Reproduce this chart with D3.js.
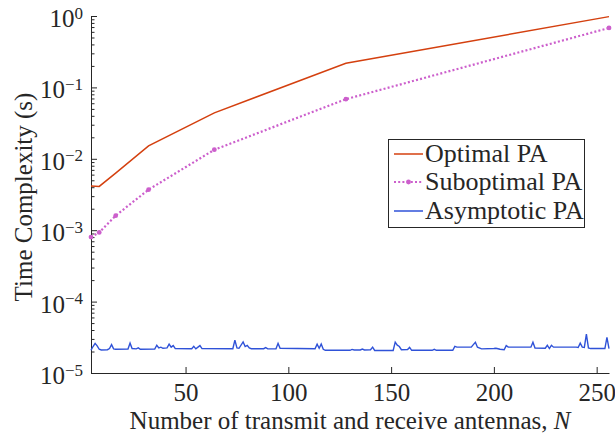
<!DOCTYPE html>
<html><head><meta charset="utf-8">
<script src="https://cdn.jsdelivr.net/npm/d3@7"></script>
<style>body{margin:0;background:#fff}svg{display:block}</style>
</head><body><svg id="c" width="615" height="438"></svg>
<script>
const seriesNames = ["Optimal PA", "Suboptimal PA", "Asymptotic PA"];
const optN = [4, 8, 16, 32, 64, 128, 256];
const optVal = [4.15e-3, 4.1e-3, 6.3e-3, 0.0152, 0.044, 0.218, 0.98];
const subN = [4, 8, 16, 32, 64, 128, 256];
const subVal = [8.0e-4, 9.3e-4, 1.6e-3, 3.7e-3, 0.0134, 0.0684, 0.68];
const asymN = [4,5,6,7,8,9,12,13,14,15,16,22,23,24,26,27,28,35,36,37,38,39,41,42,43,44,45,53,54,55,57,58,73,74,75,76,78,79,80,81,82,88,89,90,94,95,96,113,114,115,116,117,118,130,131,132,135,136,137,140,141,142,151,152,153,154,155,158,159,160,170,171,172,180,181,182,189,190,191,192,194,200,201,203,205,206,207,218,219,220,225,226,227,228,229,240,241,242,243,244,245,246,247,254,255,256];
const asymVal = [2.08e-5,2.35e-5,2.6e-5,2.4e-5,2.15e-5,2.1e-5,2.12e-5,2.2e-5,2.5e-5,2.18e-5,2.15e-5,2.17e-5,2.62e-5,2.2e-5,2.18e-5,2.25e-5,2.15e-5,2.17e-5,2.45e-5,2.25e-5,2.3e-5,2.22e-5,2.25e-5,2.54e-5,2.3e-5,2.42e-5,2.2e-5,2.19e-5,2.36e-5,2.18e-5,2.42e-5,2.2e-5,2.19e-5,2.89e-5,2.25e-5,2.22e-5,2.72e-5,2.35e-5,2.44e-5,2.24e-5,2.19e-5,2.19e-5,2.27e-5,2.18e-5,2.19e-5,2.6e-5,2.22e-5,2.19e-5,2.54e-5,2.22e-5,2.54e-5,2.15e-5,2.08e-5,2.08e-5,2.14e-5,2.1e-5,2.1e-5,2.16e-5,2.1e-5,2.12e-5,2.3e-5,2.07e-5,2.07e-5,2.7e-5,2.45e-5,2.35e-5,2.12e-5,2.13e-5,2.28e-5,2.08e-5,2.08e-5,2.15e-5,2.08e-5,2.08e-5,2.36e-5,2.3e-5,2.3e-5,2.5e-5,2.7e-5,2.3e-5,2.18e-5,2.2e-5,2.22e-5,2.15e-5,2.12e-5,2.42e-5,2.3e-5,2.3e-5,2.7e-5,2.24e-5,2.22e-5,2.44e-5,2.2e-5,2.44e-5,2.3e-5,2.3e-5,2.28e-5,2.62e-5,2.3e-5,2.28e-5,3.5e-5,2.25e-5,2.2e-5,2.2e-5,3.15e-5,2.2e-5];
const xTicks = [50, 100, 150, 200, 250];
const yTicks = [1e-5, 1e-4, 1e-3, 1e-2, 1e-1, 1];
const yTickExp = ["\u22125", "\u22124", "\u22123", "\u22122", "\u22121", "0"];
const colors = ["#d4400f", "#cc5fcc", "#2f52d8"];
const FONT = "Liberation Serif";
const INK = "#262626";

const svg = d3.select("#c");
const x = d3.scaleLinear().domain([4, 256]).range([91, 609]);
const y = d3.scaleLog().domain([1e-5, 1]).range([373, 16]);

const minor = [];
for (let e = -5; e < 0; e++) for (let m = 2; m <= 9; m++) minor.push(m * Math.pow(10, e));

const gyMinor = svg.append("g").attr("transform", "translate(91,0)")
  .call(d3.axisLeft(y).tickValues(minor).tickSize(-3.5).tickFormat(""));
gyMinor.select(".domain").remove();
gyMinor.selectAll("line").attr("stroke", INK);

const gy = svg.append("g").attr("transform", "translate(91,0)")
  .call(d3.axisLeft(y).tickValues(yTicks).tickSize(-6).tickPadding(8).tickSizeOuter(0).tickFormat(""));
gy.selectAll("line").attr("stroke", INK);
gy.select(".domain").attr("stroke", INK);
gy.selectAll(".tick text").each(function(d, i) {
  const t = d3.select(this).attr("font-size", 25).attr("dy", "0.42em").attr("fill", INK).style("font-family", FONT);
  t.text(null);
  t.append("tspan").text("10");
  t.append("tspan").attr("dy", "-0.5em").attr("font-size", 17).text(yTickExp[i]);
});

const gx = svg.append("g").attr("transform", "translate(0,373)")
  .call(d3.axisBottom(x).tickValues(xTicks).tickSize(-6).tickPadding(10).tickSizeOuter(0));
gx.selectAll("line").attr("stroke", INK);
gx.select(".domain").attr("stroke", INK);
gx.selectAll(".tick text").attr("font-size", 25).attr("fill", INK).style("font-family", FONT);

const line = d3.line().x(d => x(d[0])).y(d => y(d[1]));
const optData = optN.map((n, i) => [n, optVal[i]]);
const subData = subN.map((n, i) => [n, subVal[i]]);
const asymData = asymN.map((n, i) => [n, asymVal[i]]);

svg.append("path").datum(asymData).attr("d", line).attr("fill", "none").attr("stroke", colors[2]).attr("stroke-width", 1.4);
svg.append("path").datum(optData).attr("d", line).attr("fill", "none").attr("stroke", colors[0]).attr("stroke-width", 1.5);
svg.append("path").datum(subData).attr("d", line).attr("fill", "none").attr("stroke", colors[1]).attr("stroke-width", 2.2).attr("stroke-dasharray", "2,2.2");
svg.selectAll(".subm").data(subData).enter().append("circle").attr("class", "subm")
  .attr("cx", d => x(d[0])).attr("cy", d => y(d[1])).attr("r", 2.4).attr("fill", colors[1]);

svg.append("text").attr("x", 350).attr("y", 429).attr("text-anchor", "middle").attr("font-size", 25).attr("fill", INK).style("font-family", FONT)
  .text("Number of transmit and receive antennas, ").append("tspan").attr("font-style", "italic").text("N");
svg.append("text").attr("transform", "translate(32,197) rotate(-90)").attr("text-anchor", "middle").attr("font-size", 25).attr("fill", INK).style("font-family", FONT)
  .text("Time Complexity (s)");

const lg = svg.append("g");
lg.append("rect").attr("x", 388.5).attr("y", 139.5).attr("width", 196).attr("height", 88).attr("fill", "#fff").attr("stroke", INK).attr("stroke-width", 1);
const rowY = [154, 182, 211];
seriesNames.forEach((name, i) => {
  const l = lg.append("line").attr("x1", 394).attr("x2", 423).attr("y1", rowY[i]).attr("y2", rowY[i]).attr("stroke", colors[i]);
  if (i === 1) {
    l.attr("stroke-width", 2.2).attr("stroke-dasharray", "2,2.2");
    lg.append("circle").attr("cx", 408.5).attr("cy", rowY[i]).attr("r", 2.4).attr("fill", colors[i]);
  } else l.attr("stroke-width", 1.5);
  lg.append("text").attr("x", 425).attr("y", rowY[i] + 8).attr("font-size", 26).attr("fill", INK).style("font-family", FONT).text(name);
});
</script></body></html>
